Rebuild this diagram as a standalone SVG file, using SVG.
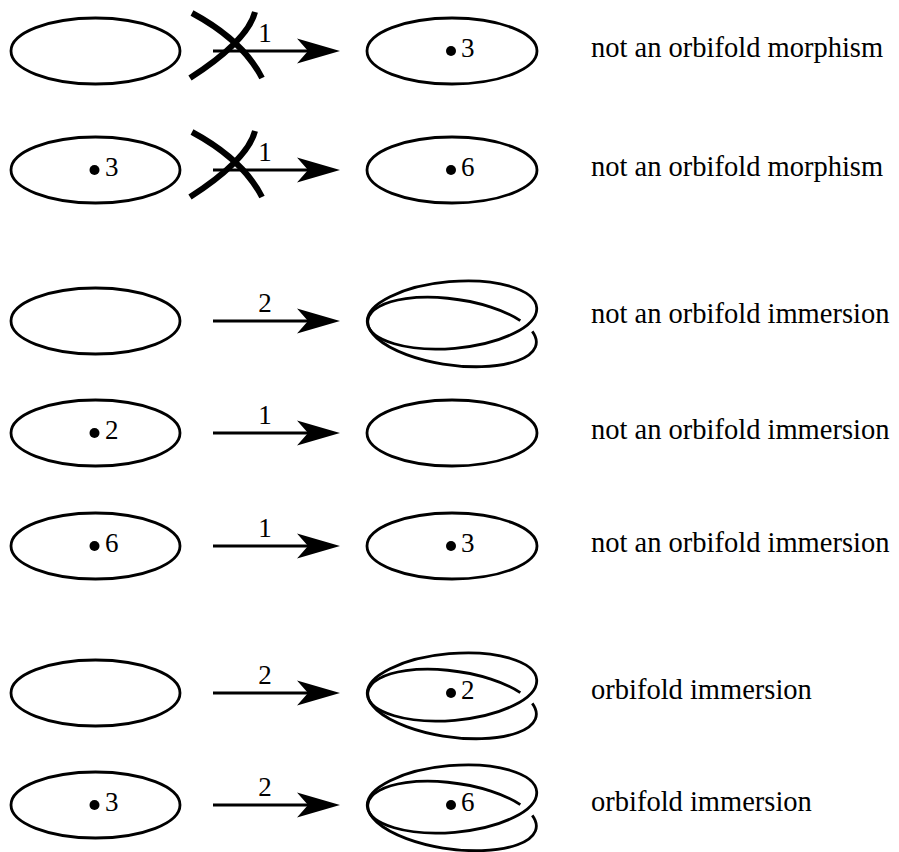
<svg xmlns="http://www.w3.org/2000/svg" xmlns:xlink="http://www.w3.org/1999/xlink" width="899" height="852" viewBox="0 0 899 852">
<style>
.sh{fill:none;stroke:#000;stroke-width:2.8}
.ln{fill:none;stroke:#000;stroke-width:2.8}
.x{fill:none;stroke:#000;stroke-width:6}
.dot{fill:#000}
.t{font-family:"Liberation Serif","Times New Roman",serif;font-size:28.5px;fill:#000}
.d{font-family:"Liberation Serif","Times New Roman",serif;font-size:27px;fill:#000}
.lb{font-family:"Liberation Serif","Times New Roman",serif;font-size:27px;fill:#000;text-anchor:middle}
</style>
<defs>
<g id="twist">
<path class="sh" d="M164.25,10.3 A85 33 8 1 1 152.3,-0.41"/>
<ellipse class="sh" cx="84" cy="-6" rx="85" ry="33.4" transform="rotate(-5 84 -6)"/>
</g>
<g id="cross">
<path class="x" d="M192,13 Q243,40.5 262,78"/>
<path class="x" d="M255,12 Q247.5,41 190,78"/>
</g>
</defs>
<rect width="899" height="852" fill="#fff"/>

<g id="connectors">
<line class="ln" x1="213" y1="51" x2="320" y2="51"/><path d="M340,51 L297,38.5 L308,51 L297,63.5 Z"/>
<text class="lb" x="265" y="42">1</text>
<use xlink:href="#cross" href="#cross"/>
<line class="ln" x1="213" y1="170" x2="320" y2="170"/><path d="M340,170 L297,157.5 L308,170 L297,182.5 Z"/>
<text class="lb" x="265" y="161">1</text>
<use xlink:href="#cross" href="#cross" y="119"/>
<line class="ln" x1="213" y1="321" x2="320" y2="321"/><path d="M340,321 L297,308.5 L308,321 L297,333.5 Z"/>
<text class="lb" x="265" y="312">2</text>
<line class="ln" x1="213" y1="433" x2="320" y2="433"/><path d="M340,433 L297,420.5 L308,433 L297,445.5 Z"/>
<text class="lb" x="265" y="424">1</text>
<line class="ln" x1="213" y1="546" x2="320" y2="546"/><path d="M340,546 L297,533.5 L308,546 L297,558.5 Z"/>
<text class="lb" x="265" y="537">1</text>
<line class="ln" x1="213" y1="693" x2="320" y2="693"/><path d="M340,693 L297,680.5 L308,693 L297,705.5 Z"/>
<text class="lb" x="265" y="684">2</text>
<line class="ln" x1="213" y1="805" x2="320" y2="805"/><path d="M340,805 L297,792.5 L308,805 L297,817.5 Z"/>
<text class="lb" x="265" y="796">2</text>
</g>

<g id="row1-src"><ellipse class="sh" cx="95.5" cy="51" rx="84.5" ry="33"/></g>
<g id="row1-dst"><ellipse class="sh" cx="452" cy="51" rx="85" ry="33"/><circle class="dot" cx="451" cy="51" r="5"/><text class="d" x="461" y="57">3</text></g>
<g id="row1-label"><text class="t" x="591" y="57">not an orbifold morphism</text></g>

<g id="row2-src"><ellipse class="sh" cx="95.5" cy="170" rx="84.5" ry="33"/><circle class="dot" cx="94.5" cy="170" r="5"/><text class="d" x="105" y="176">3</text></g>
<g id="row2-dst"><ellipse class="sh" cx="452" cy="170" rx="85" ry="33"/><circle class="dot" cx="451" cy="170" r="5"/><text class="d" x="461" y="176">6</text></g>
<g id="row2-label"><text class="t" x="591" y="176">not an orbifold morphism</text></g>

<g id="row3-src"><ellipse class="sh" cx="95.5" cy="321" rx="84.5" ry="33"/></g>
<g id="row3-dst"><use xlink:href="#twist" href="#twist" x="368" y="321"/></g>
<g id="row3-label"><text class="t" x="591" y="323">not an orbifold immersion</text></g>

<g id="row4-src"><ellipse class="sh" cx="95.5" cy="433" rx="84.5" ry="33"/><circle class="dot" cx="94.5" cy="433" r="5"/><text class="d" x="105" y="439">2</text></g>
<g id="row4-dst"><ellipse class="sh" cx="452" cy="433" rx="85" ry="33"/></g>
<g id="row4-label"><text class="t" x="591" y="439">not an orbifold immersion</text></g>

<g id="row5-src"><ellipse class="sh" cx="95.5" cy="546" rx="84.5" ry="33"/><circle class="dot" cx="94.5" cy="546" r="5"/><text class="d" x="105" y="552">6</text></g>
<g id="row5-dst"><ellipse class="sh" cx="452" cy="546" rx="85" ry="33"/><circle class="dot" cx="451" cy="546" r="5"/><text class="d" x="461" y="552">3</text></g>
<g id="row5-label"><text class="t" x="591" y="552">not an orbifold immersion</text></g>

<g id="row6-src"><ellipse class="sh" cx="95.5" cy="693" rx="84.5" ry="33"/></g>
<g id="row6-dst"><use xlink:href="#twist" href="#twist" x="368" y="693"/><circle class="dot" cx="451" cy="693" r="5"/><text class="d" x="461" y="699">2</text></g>
<g id="row6-label"><text class="t" x="591" y="699">orbifold immersion</text></g>

<g id="row7-src"><ellipse class="sh" cx="95.5" cy="805" rx="84.5" ry="33"/><circle class="dot" cx="94.5" cy="805" r="5"/><text class="d" x="105" y="811">3</text></g>
<g id="row7-dst"><use xlink:href="#twist" href="#twist" x="368" y="805"/><circle class="dot" cx="451" cy="805" r="5"/><text class="d" x="461" y="811">6</text></g>
<g id="row7-label"><text class="t" x="591" y="811">orbifold immersion</text></g>
</svg>
